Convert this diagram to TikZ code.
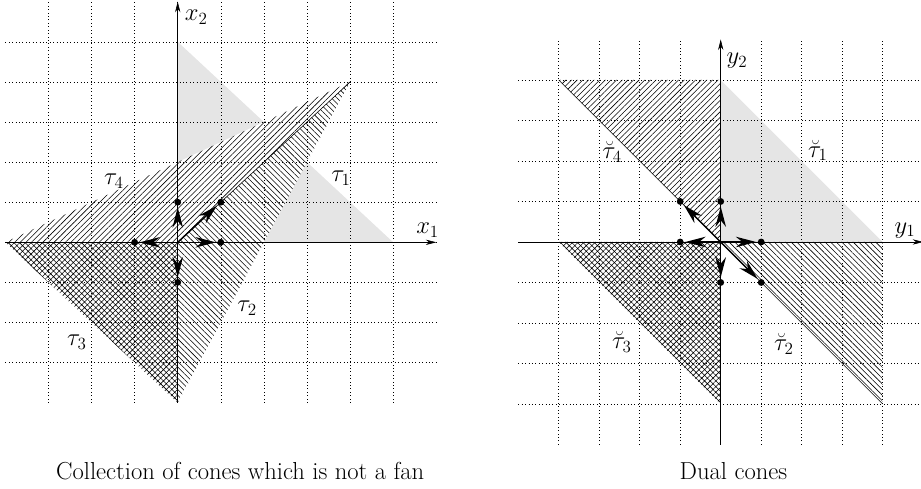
\documentclass[tikz,border=0pt]{standalone}
\usepackage{amsmath,amssymb}
\usepackage{tikz}
\usetikzlibrary{arrows.meta,patterns.meta}

\begin{document}
\begin{tikzpicture}[
  pt/.style={circle,fill=black,inner sep=0pt,minimum size=4.8pt},
  vec/.style={line width=1pt,-{Stealth[length=5mm,width=2.6mm]},shorten >=1pt},
  axis/.style={thin,-{Stealth[length=2.6mm,width=1.3mm]}},
  hatchne/.style={pattern={Lines[angle=45,distance=2.8pt,line width=0.4pt]}},
  hatchnw/.style={pattern={Lines[angle=-45,distance=2.8pt,line width=0.4pt]}},
  hatchx/.style={pattern={Hatch[angle=45,distance=2.8pt,line width=0.4pt]}},
  lbl/.style={font=\LARGE}]
  \useasboundingbox (0,0) rectangle (22.74,12.05);

  % the cones tau_1..tau_4
  \begin{scope}[shift={(4.388,6.067)},xscale=1.064,yscale=0.99]
    \fill[gray!20] (0,0) -- (5,0) -- (0,5) -- cycle;
    \fill[white] (0,0) -- (4,4) -- (-4,0) -- cycle;
    \fill[white] (0,0) -- (4,4) -- (0,-4) -- cycle;
    \fill[hatchne] (0,0) -- (4,4) -- (-4,0) -- cycle;
    \fill[hatchnw] (0,0) -- (4,4) -- (0,-4) -- cycle;
    \fill[hatchx] (0,0) -- (-4,0) -- (0,-4) -- cycle;
    \draw[dotted] (-3.999,-3.999) grid (5.999,5.999);

    \coordinate (o) at (0,0);
    \coordinate (d) at (4,4);
    \draw (o) -- (d);
    \coordinate (xw) at (-4,0);
    \coordinate (xe) at (6,0);
    \coordinate (ys) at (0,-4);
    \coordinate (yn) at (0,6);
    \draw[axis] (xw) -- (xe);
    \draw[axis] (ys) -- (yn);
    \node[lbl] (x1) at (5.8,0.31) {$x_1$};
    \node[lbl] (x2) at (0.43,5.62) {$x_2$};

    \node[pt] (e1) at (1,0) {};
    \node[pt] (e2) at (0,1) {};
    \node[pt] (m1) at (-1,0) {};
    \node[pt] (m2) at (0,-1) {};
    \node[pt] (dg) at (1,1) {};
    \foreach \p in {e1,e2,m1,m2,dg}
      \draw[vec] (o) -- (\p);

    \node[lbl] (t1) at (3.79,1.6) {$\tau_1$};
    \node[lbl] (t2) at (1.61,-1.64) {$\tau_2$};
    \node[lbl] (t3) at (-2.34,-2.49) {$\tau_3$};
    \node[lbl] (t4) at (-1.48,1.53) {$\tau_4$};
  \end{scope}

  % the dual cones
  \begin{scope}[shift={(17.795,6.075)}]
    \fill[gray!20] (0,0) -- (4,0) -- (0,4) -- cycle;
    \fill[hatchne] (0,0) -- (0,4) -- (-4,4) -- cycle;
    \fill[hatchnw] (0,0) -- (4,0) -- (4,-4) -- cycle;
    \fill[hatchx] (0,0) -- (-4,0) -- (0,-4) -- cycle;
    \draw[dotted] (-4.999,-4.999) grid (4.999,4.999);

    \coordinate (O) at (0,0);
    \coordinate (nw) at (-4,4);
    \coordinate (se) at (4,-4);
    \draw (nw) -- (se);
    \coordinate (yw) at (-5,0);
    \coordinate (ye) at (5,0);
    \coordinate (ys) at (0,-5);
    \coordinate (yn) at (0,5);
    \draw[axis] (yw) -- (ye);
    \draw[axis] (ys) -- (yn);
    \node[lbl] (y1) at (4.55,0.29) {$y_1$};
    \node[lbl] (y2) at (0.4,4.48) {$y_2$};

    \node[pt] (f1) at (1,0) {};
    \node[pt] (f2) at (0,1) {};
    \node[pt] (g1) at (-1,0) {};
    \node[pt] (g2) at (0,-1) {};
    \node[pt] (h1) at (-1,1) {};
    \node[pt] (h2) at (1,-1) {};
    \foreach \p in {f1,f2,g1,g2,h1,h2}
      \draw[vec] (O) -- (\p);

    \node[lbl] (s1) at (2.4,2.26) {$\breve{\tau}_1$};
    \node[lbl] (s2) at (1.56,-2.52) {$\breve{\tau}_2$};
    \node[lbl] (s3) at (-2.44,-2.47) {$\breve{\tau}_3$};
    \node[lbl] (s4) at (-2.68,2.23) {$\breve{\tau}_4$};
  \end{scope}

  \node[lbl] (capL) at (5.93,0.42) {Collection of cones which is not a fan};
  \node[lbl] (capR) at (18.11,0.42) {Dual cones};
\end{tikzpicture}
\end{document}
